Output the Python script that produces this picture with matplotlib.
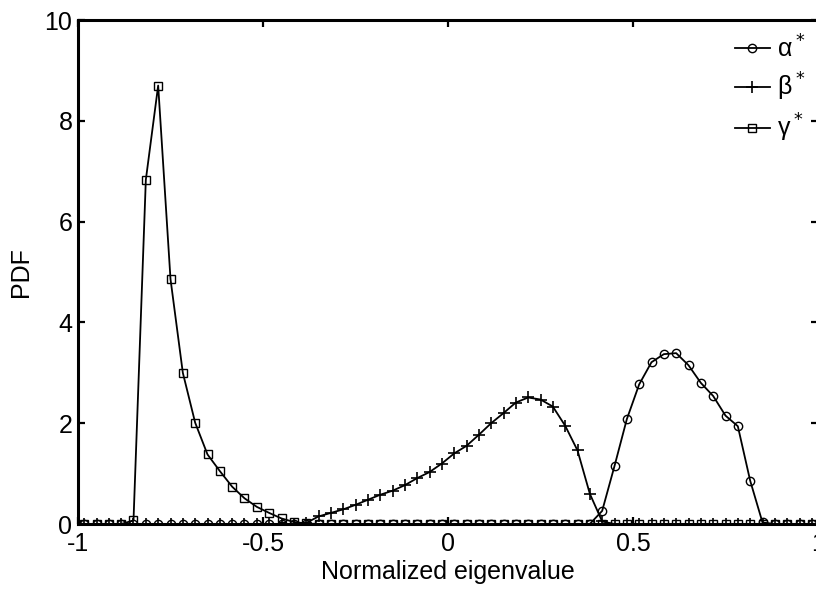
import numpy as np
import matplotlib
matplotlib.use("Agg")
import matplotlib.pyplot as plt

plt.rcParams['font.family'] = ['Liberation Sans', 'DejaVu Sans']
plt.rcParams['axes.unicode_minus'] = False

# 60 histogram bins on [-1, 1]
bin_edges = np.linspace(-1, 1, 61)
x = (bin_edges[:-1] + bin_edges[1:]) / 2

# PDF values, one per bin
alpha_pdf = [0] * 42 + [0.26, 1.15, 2.08, 2.77, 3.21, 3.37, 3.39, 3.15, 2.80,
                        2.54, 2.15, 1.94, 0.86, 0.03] + [0] * 4
beta_pdf = [0] * 18 + [0.02, 0.15, 0.22, 0.29, 0.38, 0.48, 0.58, 0.66, 0.77,
                       0.91, 1.03, 1.20, 1.40, 1.55, 1.77, 2.00, 2.20, 2.41,
                       2.51, 2.47, 2.33, 1.95, 1.46, 0.60, 0.05] + [0] * 17
gamma_pdf = [0] * 4 + [0.07, 6.83, 8.70, 4.86, 3.00, 2.01, 1.38, 1.05, 0.74,
                       0.51, 0.34, 0.22, 0.11, 0.04, 0.01] + [0] * 41

labels = ['α$^*$', 'β$^*$', 'γ$^*$']
xticks = [-1, -0.5, 0, 0.5, 1]
xticklabels = ['-1', '-0.5', '0', '0.5', '1']
yticks = [0, 2, 4, 6, 8, 10]

fig = plt.figure(figsize=(8.16, 5.89), dpi=100)
ax = fig.add_axes([78 / 816, 65 / 589, 740 / 816, 504 / 589])

ax.plot(x, alpha_pdf, 'k-', marker='o', ms=6, mfc='none', mew=1.0, lw=1.3, label=labels[0])
ax.plot(x, beta_pdf, 'k-', marker='+', ms=8, mew=1.2, lw=1.3, label=labels[1])
ax.plot(x, gamma_pdf, 'k-', marker='s', ms=5.5, mfc='none', mew=1.0, lw=1.3, label=labels[2])

ax.set_xlim(-1, 1)
ax.set_ylim(0, 10)
ax.set_xticks(xticks)
ax.set_xticklabels(xticklabels)
ax.set_yticks(yticks)
ax.tick_params(direction='in', top=True, right=True, length=5, width=1.6,
               labelsize=18)
ax.tick_params(axis='x', pad=6)
ax.tick_params(axis='y', pad=4)
for s in ax.spines.values():
    s.set_linewidth(2.2)

ax.set_xlabel('Normalized eigenvalue', fontsize=18, labelpad=3)
ax.set_ylabel('PDF', fontsize=18, labelpad=8)

ax.legend(loc='upper right', frameon=False, fontsize=18, handlelength=1.4,
          handletextpad=0.3, labelspacing=0.35, borderaxespad=0.1,
          bbox_to_anchor=(1.0, 0.995))

fig.savefig('out.png', dpi=100)
